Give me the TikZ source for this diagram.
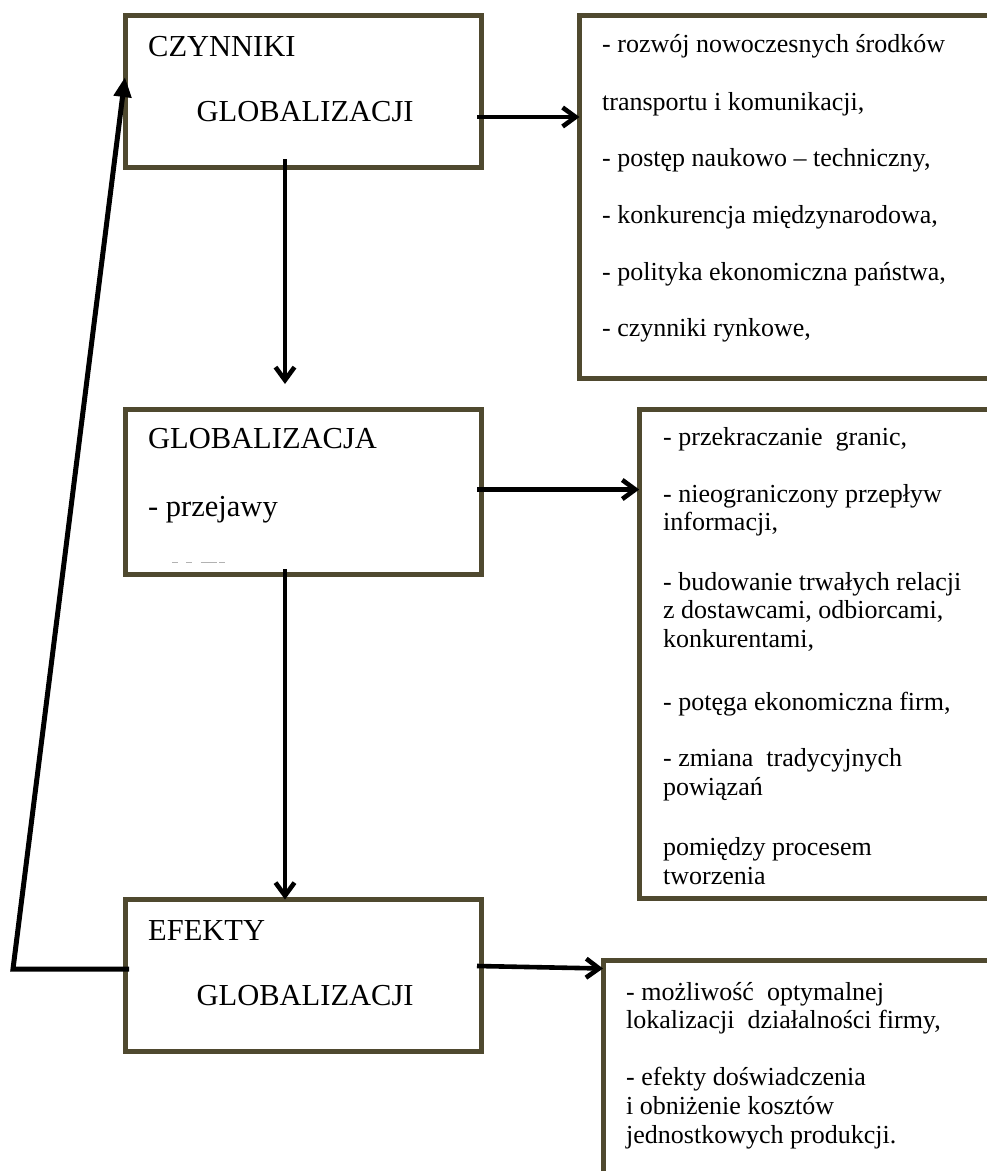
\documentclass[tikz,border=0pt]{standalone}
\usepackage{fontspec}
\setmainfont{Liberation Serif}
\usetikzlibrary{arrows.meta}
\definecolor{boxc}{RGB}{79,73,47}
\begin{document}
\begin{tikzpicture}[x=1pt,y=-1pt,
  box/.style={draw=boxc, line width=5pt, rectangle, inner sep=0pt, outer sep=0pt},
  big/.style={anchor=base west, inner sep=0pt, font=\fontsize{30.5}{36}\selectfont},
  small/.style={anchor=base west, inner sep=0pt, font=\fontsize{26}{30}\selectfont},
  conn/.style={line width=4.6pt, -{Straight Barb[length=13pt,width=19pt]}},
  fb/.style={line width=5pt, line join=miter, -{Triangle[length=20pt,width=17pt]}},
  remnant/.style={draw=gray!60, line width=1.3pt}
]
\useasboundingbox (0,0) rectangle (987,1171);
\clip (0,0) rectangle (987,1171);

% main boxes
\node[box, minimum width=356.75pt, minimum height=151.7pt] (b1) at (303.4,91.65) {};
\node[box, minimum width=356.75pt, minimum height=165pt] (b2) at (303.4,491.7) {};
\node[box, minimum width=356.75pt, minimum height=152pt] (b3) at (303.4,975.5) {};

% right boxes (extend past the right edge)
\node[box, minimum width=430.5pt, minimum height=363pt] (r1) at (794.75,196.7) {};
\node[box, minimum width=370.8pt, minimum height=489pt] (r2) at (824.6,653.7) {};
\node[box, minimum width=407pt, minimum height=240pt] (r3) at (806.5,1080) {};

% main box texts
\node[big] (t1a) at (148,56.5) {CZYNNIKI};
\node[big] (t1b) at (196.5,121.7) {GLOBALIZACJI};
\node[big] (t2a) at (148,448.3) {GLOBALIZACJA};
\node[big] (t2b) at (148,516.7) {- przejawy};
\node[big] (t3a) at (148,940) {EFEKTY};
\node[big] (t3b) at (196.5,1005) {GLOBALIZACJI};

% clipped remnant of a text line in box 2
\path[remnant] (172.3,562.3) -- (178.3,562.3) (186,562.3) -- (191.7,562.3)
  (200.7,562.3) -- (217,562.3) (219.3,562.3) -- (225,562.3);

% right box 1 texts
\node[small] (r1a) at (602,52.7) {- rozwój nowoczesnych środków};
\node[small] (r1b) at (602,110) {transportu i komunikacji,};
\node[small] (r1c) at (602,166.7) {- postęp naukowo – techniczny,};
\node[small] (r1d) at (602,223.3) {- konkurencja międzynarodowa,};
\node[small] (r1e) at (602,280) {- polityka ekonomiczna państwa,};
\node[small] (r1f) at (602,336.7) {- czynniki rynkowe,};

% right box 2 texts
\node[small] (r2a) at (663,445) {- przekraczanie\ \ granic,};
\node[small] (r2b) at (663,502) {- nieograniczony przepływ};
\node[small] (r2c) at (663,530) {informacji,};
\node[small] (r2d) at (663,590) {- budowanie trwałych relacji};
\node[small] (r2e) at (663,618.5) {z dostawcami, odbiorcami,};
\node[small] (r2f) at (663,647) {konkurentami,};
\node[small] (r2g) at (663,710) {- potęga ekonomiczna firm,};
\node[small] (r2h) at (663,766) {- zmiana\ \ tradycyjnych};
\node[small] (r2i) at (663,795) {powiązań};
\node[small] (r2j) at (663,855) {pomiędzy procesem};
\node[small] (r2k) at (663,884) {tworzenia};

% right box 3 texts
\node[small] (r3a) at (626,1000) {- możliwość\ \ optymalnej};
\node[small] (r3b) at (626,1028) {lokalizacji\ \ działalności firmy,};
\node[small] (r3c) at (626,1085) {- efekty doświadczenia};
\node[small] (r3d) at (626,1114) {i obniżenie kosztów};
\node[small] (r3e) at (626,1143) {jednostkowych produkcji.};

% connectors
\coordinate (a1s) at (285,159);
\coordinate (a1e) at (285,384);
\draw[conn] (a1s) -- (a1e);

\coordinate (a2s) at (477,117);
\draw[conn] (a2s) -- (r1.west |- a2s);

\coordinate (a3s) at (477,489.5);
\draw[conn] (a3s) -- (r2.west |- a3s);

\coordinate (a4s) at (285,569);
\draw[conn] (a4s) -- (b3.north -| a4s);

\coordinate (a5s) at (477,966);
\coordinate (a5e) at (603,968.5);
\draw[conn] (a5s) -- (r3.north west |- a5e);

% feedback arrow
\coordinate (fbc) at (13,969);
\coordinate (fbt) at (0,77);
\draw[fb] ([xshift=4pt]b3.west |- fbc) -- (fbc) -- (b1.west |- fbt);
\end{tikzpicture}
\end{document}
